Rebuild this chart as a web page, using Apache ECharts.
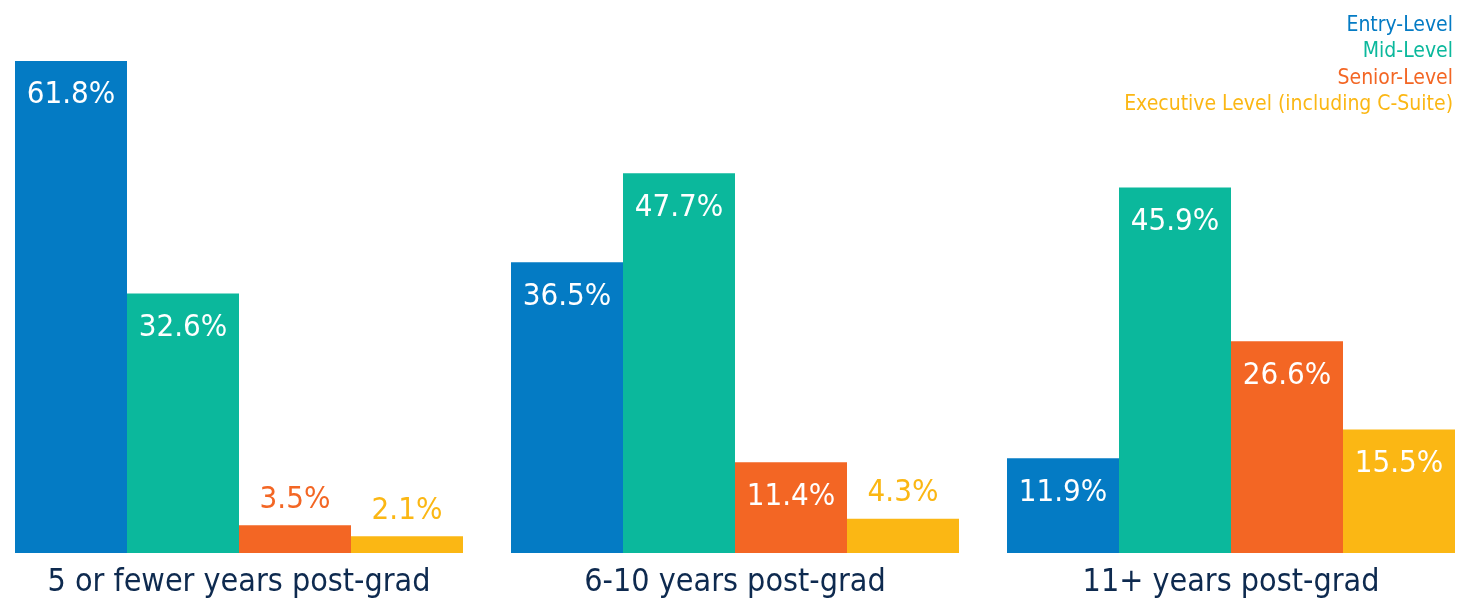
<!DOCTYPE html>
<html><head><meta charset="utf-8">
<script src="https://cdn.jsdelivr.net/npm/echarts@6/dist/echarts.min.js"></script>
<style>html,body{margin:0;padding:0;background:#fff}#c{width:1459px;height:609px}</style>
</head><body><div id="c"></div>
<script>
const categories = ['5 or fewer years post-grad', '6-10 years post-grad', '11+ years post-grad'];
const seriesNames = ['Entry-Level', 'Mid-Level', 'Senior-Level', 'Executive Level (including C-Suite)'];
const entryLevel = [61.8, 36.5, 11.9];
const midLevel = [32.6, 47.7, 45.9];
const seniorLevel = [3.5, 11.4, 26.6];
const executiveLevel = [2.1, 4.3, 15.5];
const colors = ['#047BC4', '#0BB89C', '#F36624', '#FBB714'];

const FONT = '"DejaVu Sans Condensed", "Liberation Sans Narrow", sans-serif';
const allValues = [entryLevel, midLevel, seniorLevel, executiveLevel];

const series = allValues.map((vals, i) => ({
  name: seriesNames[i],
  type: 'bar',
  barWidth: 112,
  barGap: '0%',
  itemStyle: { color: colors[i] },
  label: {
    show: true, position: 'insideTop', distance: 19,
    color: '#fff', fontFamily: FONT, fontSize: 31,
    formatter: p => p.value.toFixed(1) + '%'
  },
  data: vals.map(v => v < 5 ? { value: v, label: { position: 'top', distance: 10, color: colors[i] } } : v)
}));

const chart = echarts.init(document.getElementById('c'));
chart.setOption({
  animation: false,
  legend: {
    orient: 'vertical', right: 0, top: 13, align: 'right', icon: 'none',
    itemWidth: 0, itemHeight: 10, itemGap: 2, padding: [0, 1, 0, 0],
    selectedMode: false,
    textStyle: { fontFamily: FONT, fontSize: 21, lineHeight: 24.5 },
    data: seriesNames.map((n, i) => ({ name: n, textStyle: { color: colors[i] } }))
  },
  grid: { left: -9, right: -20, top: 35.4, bottom: 56, outerBoundsMode: 'none', containLabel: false },
  xAxis: {
    type: 'category', data: categories,
    axisLine: { show: false }, axisTick: { show: false },
    axisLabel: { color: '#0E2A4F', fontFamily: FONT, fontSize: 32, margin: 14, interval: 0 }
  },
  yAxis: { type: 'value', min: 0, max: 65, show: false, splitLine: { show: false } },
  series
});
</script></body></html>
